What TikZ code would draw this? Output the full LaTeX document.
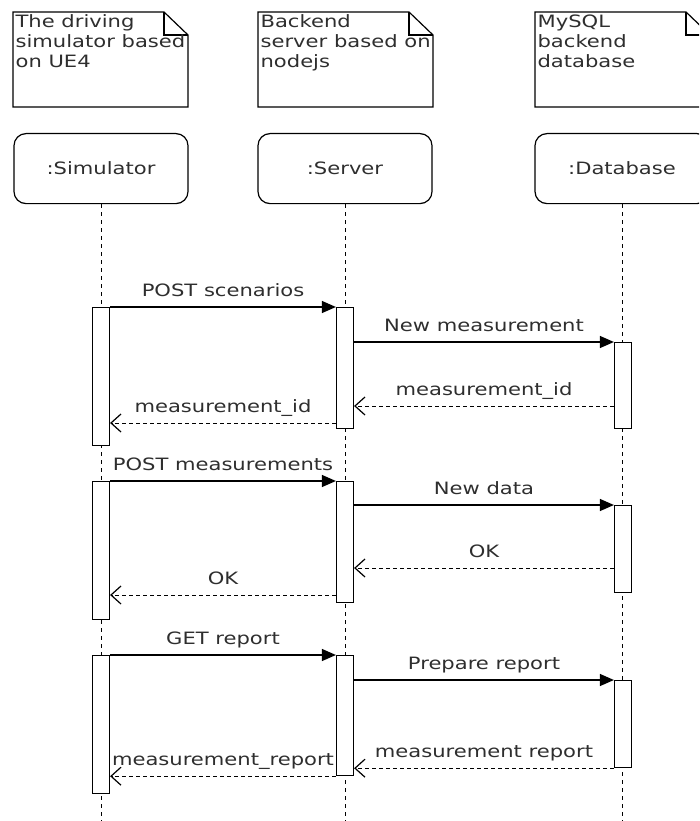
\documentclass[tikz,border=0pt]{standalone}
\usepackage{fontspec}
\setmainfont{DejaVu Sans}[FakeStretch=1.24]
\usetikzlibrary{arrows.meta}
\definecolor{txtgray}{HTML}{2E2E2E}
\tikzset{
  txt/.style={font=\fontsize{17}{20}\selectfont, text=txtgray},
  head/.style={draw, txt, rounded corners=12pt, minimum width=174pt, minimum height=70pt, anchor=north},
  actbar/.style={draw, fill=white, minimum width=17pt, inner sep=0pt, anchor=north},
  msg/.style={-{Triangle[length=14pt,width=12pt]}},
  ret/.style={-{Straight Barb[length=10pt,width=18pt,line width=1.2pt]}, line width=1pt, dash pattern=on 4pt off 3pt},
  lbl/.style={txt, anchor=south, inner sep=0pt, text height=13pt, text depth=4pt, yshift=6pt},
  lifeline/.style={dash pattern=on 4pt off 4pt}
}
\begin{document}
\begin{tikzpicture}[x=1pt, y=-1pt, line width=1.2pt]
    \useasboundingbox (0,0) rectangle (699,821);
    \clip (0,0) rectangle (699,821);
    % notes
    \foreach \n/\x/\t in {note1/13/{The driving\\simulator based\\on UE4},
                          note2/258/{Backend\\server based on\\nodejs},
                          note3/535/{MySQL\\backend\\database}} {
      \draw (\x,12) -- (\x+151,12) -- (\x+175,35) -- (\x+175,107) -- (\x,107) -- cycle;
      \draw (\x+151,12) -- (\x+151,35) -- (\x+175,35);
      \node[txt, anchor=north west, align=left, inner sep=0pt] (\n) at (\x+2,14) {\t};
    }
    % lifelines
    \foreach \n/\x/\t in {sim/101/:Simulator, srv/345/:Server, db/622/:Database} {
      \node[head] (\n) at (\x,133) {\t};
      \draw[lifeline, line width=1pt] (\n.south) -- (\n.south |- 0,821);
    }
    % activations
    \foreach \n/\x/\y/\h in {sim1/101/307/138, srv1/345/307/121, db1/623/342/86,
                             sim2/101/481/138, srv2/345/481/121, db2/623/505/87,
                             sim3/101/655/138, srv3/345/655/120, db3/623/680/87}
      \node[actbar, minimum height=\h pt] (\n) at (\x,\y) {};
    % messages
    \draw[msg] (sim1.north east) -- node[lbl] (m1) {POST scenarios} (srv1.north west);
    \draw[msg] (srv1.east |- db1.north) -- node[lbl] (m2) {New measurement} (db1.north west);
    \draw[ret] (db1.west |- 0,406) -- node[lbl] (m3) {measurement\_id} (srv1.east |- 0,406);
    \draw[ret] (srv1.west |- 0,423) -- node[lbl] (m4) {measurement\_id} (sim1.east |- 0,423);
    \draw[msg] (sim2.north east) -- node[lbl] (m5) {POST measurements} (srv2.north west);
    \draw[msg] (srv2.east |- db2.north) -- node[lbl] (m6) {New data} (db2.north west);
    \draw[ret] (db2.west |- 0,568) -- node[lbl] (m7) {OK} (srv2.east |- 0,568);
    \draw[ret] (srv2.west |- 0,595) -- node[lbl] (m8) {OK} (sim2.east |- 0,595);
    \draw[msg] (sim3.north east) -- node[lbl] (m9) {GET report} (srv3.north west);
    \draw[msg] (srv3.east |- db3.north) -- node[lbl] (m10) {Prepare report} (db3.north west);
    \draw[ret] (db3.south west) -- node[lbl] (m11) {measurement report} (srv3.east |- db3.south);
    \draw[ret] (srv3.south west) -- node[lbl] (m12) {measurement\_report} (sim3.east |- srv3.south);
\end{tikzpicture}
\end{document}
